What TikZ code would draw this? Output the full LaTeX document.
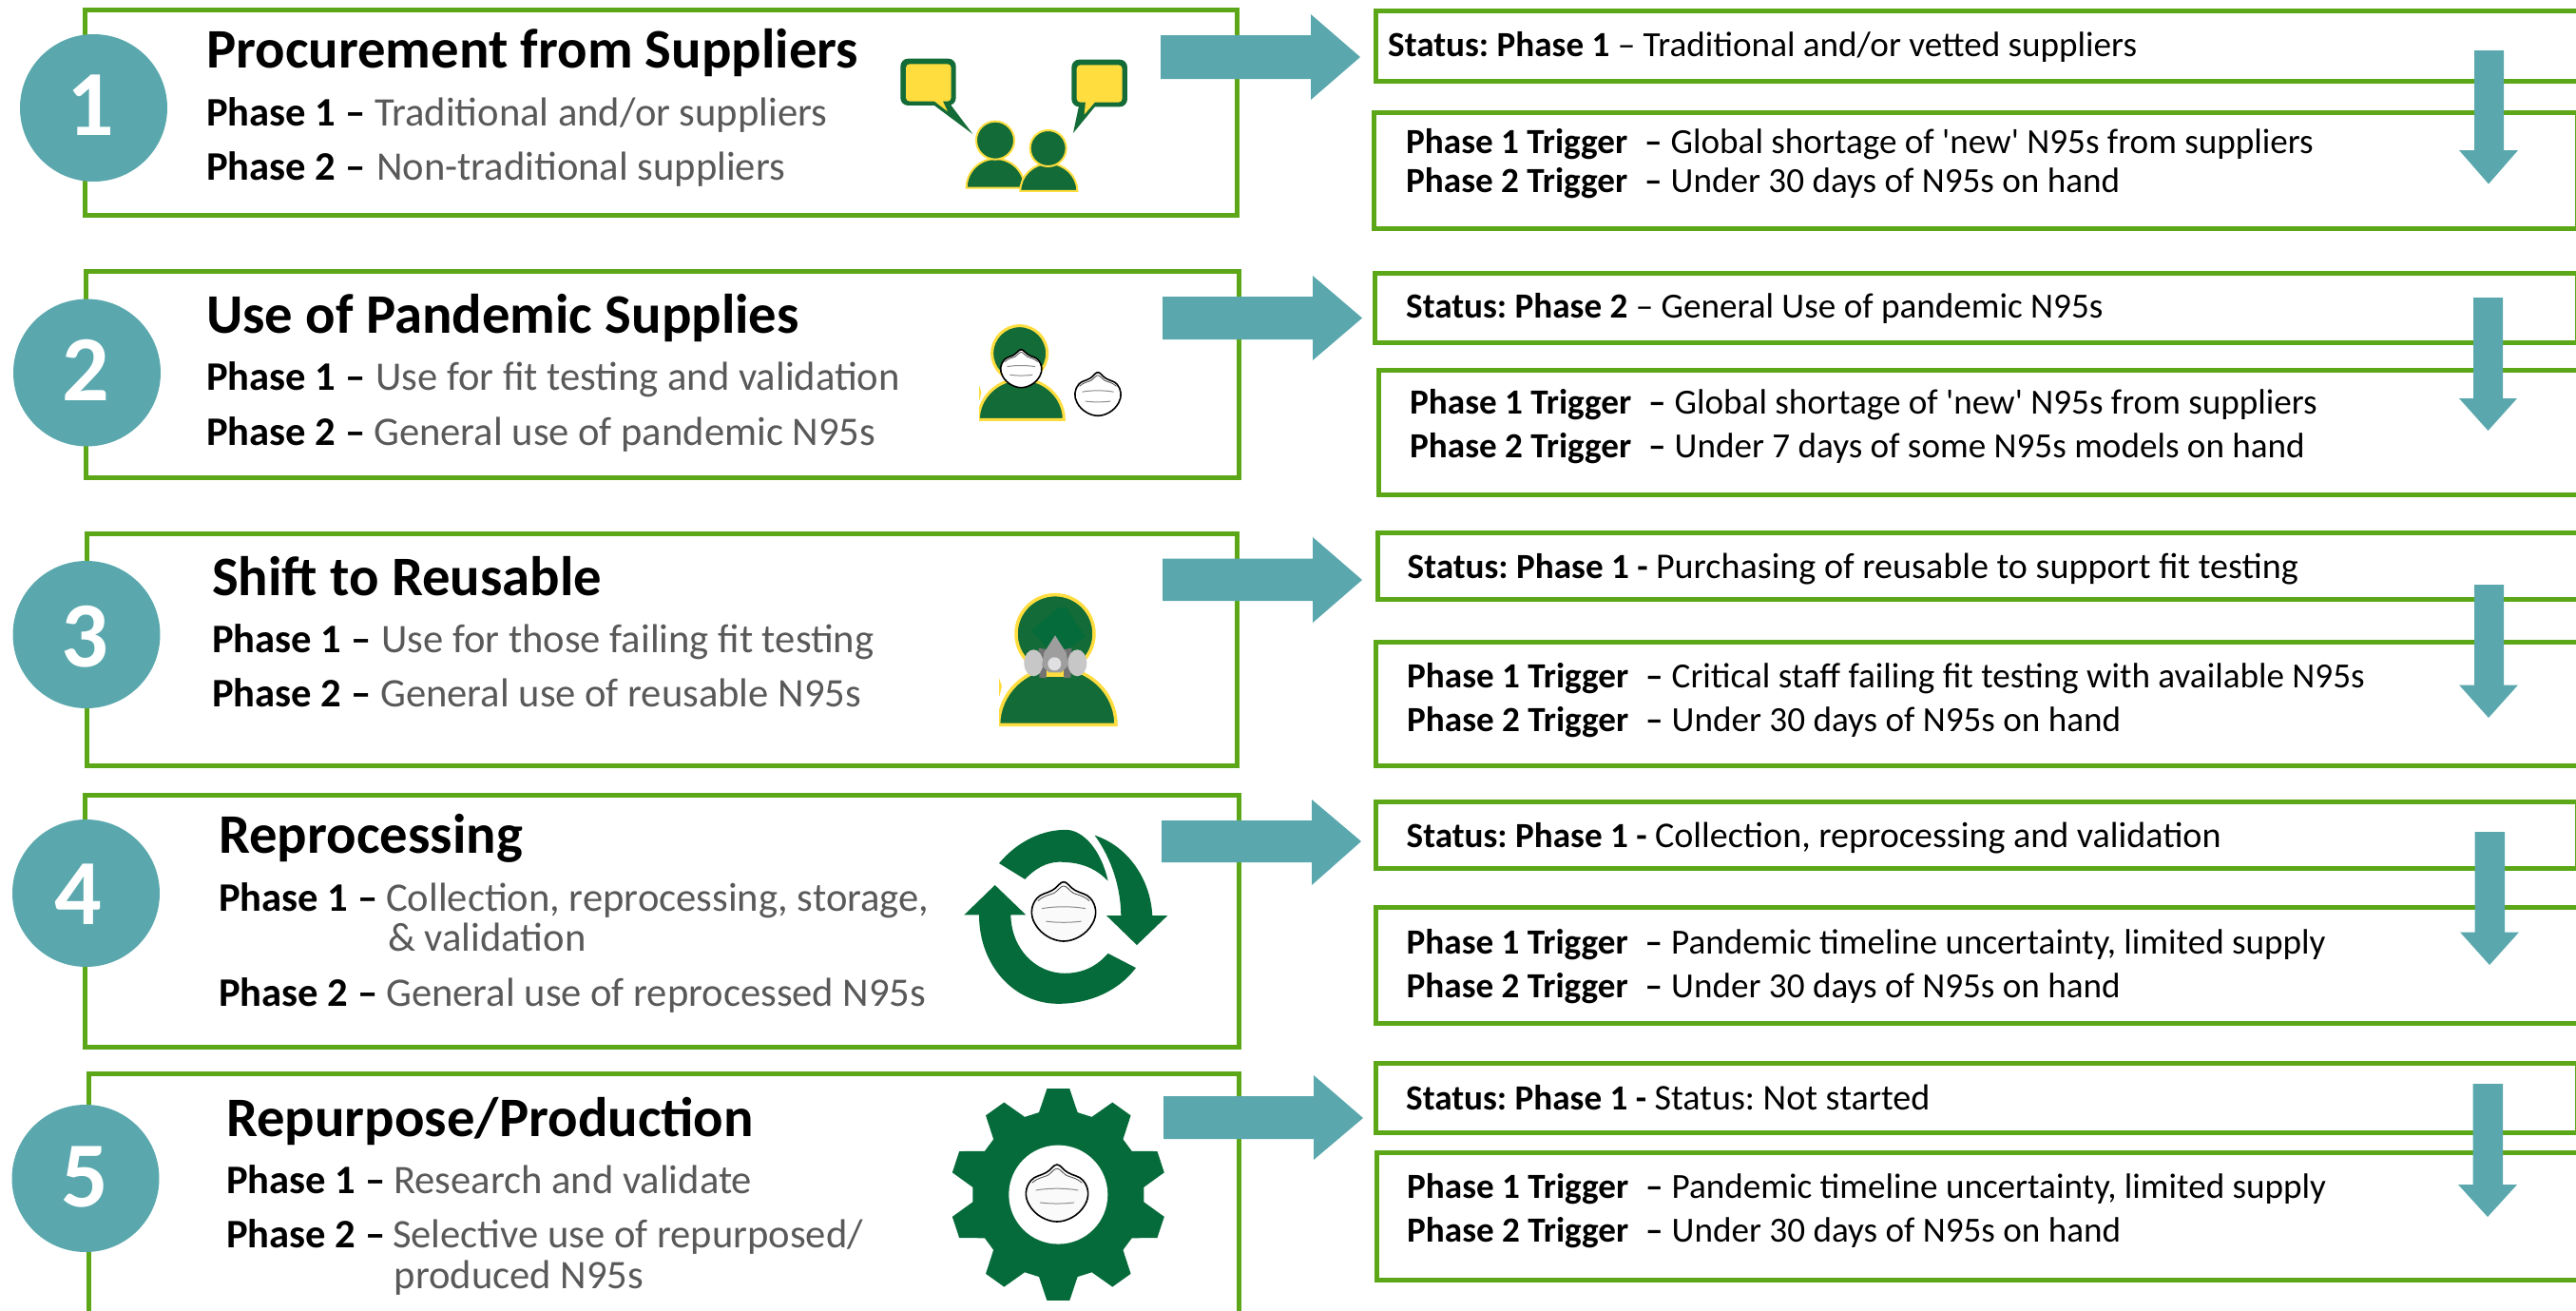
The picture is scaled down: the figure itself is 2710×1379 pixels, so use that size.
\documentclass[tikz,border=0pt]{standalone}
\usepackage{fontspec}
\setmainfont{Carlito}
\newfontfamily\plainf{Carlito}
\newcommand{\sq}{{\plainf '}}
\newcommand{\wider}{\fontsize{38.1}{43}\selectfont}
\definecolor{boxgreen}{RGB}{92,167,24}
\definecolor{tealc}{RGB}{90,168,173}
\definecolor{darkg}{RGB}{19,107,55}
\definecolor{gearg}{RGB}{6,107,58}
\definecolor{yell}{RGB}{255,221,63}
\definecolor{txtgray}{RGB}{89,89,89}
\tikzset{
  gbox/.style={draw=boxgreen,line width=5pt,inner sep=0pt,outer sep=0pt},
  numdisc/.style={circle,fill=tealc,inner sep=0pt,outer sep=0pt,minimum size=155pt},
  numtxt/.style={anchor=base,inner sep=0pt,text=white,font=\fontsize{98}{110}\selectfont\bfseries},
  ttl/.style={anchor=base west,inner sep=0pt,yshift=-2pt,font=\fontsize{58.7}{66}\selectfont\bfseries},
  phs/.style={anchor=base west,inner sep=0pt,yshift=-1.5pt,font=\fontsize{42.6}{48}\selectfont},
  rtxt/.style={anchor=base west,inner sep=0pt,yshift=-1.5pt,font=\fontsize{37.15}{43}\selectfont},
  blockarrow/.style={fill=tealc},
  person/.style={fill=darkg,draw=yell,line width=2pt},
}
\usetikzlibrary{fit,calc}
\newcommand{\gb}[5]{\node[gbox,fit={(#2,#3)(#4,#5)}] (#1) {};}
\newcommand{\phl}[6]{\node[phs,at={(#2,#3)}] (#1) {\makebox[#4pt][l]{\bfseries #5}{\color{txtgray}#6}};}
\newcommand{\trg}[5]{\node[rtxt,at={(#2,#3)}] (#1) {\makebox[251pt][l]{\bfseries #4}\makebox[27.5pt][l]{\bfseries –}#5};}
\newcommand{\rarr}[8]{\fill[blockarrow] (#1,#4) -- (#2,#4) -- (#2,#6) -- (#3,#8) -- (#2,#7) -- (#2,#5) -- (#1,#5) -- cycle;}
\newcommand{\darr}[8]{\fill[blockarrow] (#1,#5) -- (#1,#6) -- (#3,#6) -- (#4,#8) -- (#7,#6) -- (#2,#6) -- (#2,#5) -- cycle;}
\newcommand{\domepath}[4]{({#1-#3},#2) .. controls ({#1-#3},{#2-.55*#4}) and ({#1-.55*#3},{#2-#4}) .. (#1,{#2-#4}) .. controls ({#1+.55*#3},{#2-#4}) and ({#1+#3},{#2-.55*#4}) .. ({#1+#3},#2) -- cycle}
\newcommand{\maskicon}[5]{%
\begin{scope}[shift={(#1,#2)},x=#3pt,y=-#4pt]
\path[fill=#5,draw=black,line width=1.6pt]
 (0,-1) .. controls (-.12,-1) and (-.2,-.8) .. (-.35,-.72)
 .. controls (-.5,-.62) and (-.72,-.6) .. (-.83,-.45)
 .. controls (-1.02,-.22) and (-1.05,.12) .. (-.9,.4)
 .. controls (-.7,.8) and (-.3,1) .. (0,1)
 .. controls (.3,1) and (.7,.8) .. (.9,.4)
 .. controls (1.05,.12) and (1.02,-.22) .. (.83,-.45)
 .. controls (.72,-.6) and (.5,-.62) .. (.35,-.72)
 .. controls (.2,-.8) and (.12,-1) .. (0,-1) -- cycle;
\draw[black!70,line width=.8pt] (-.8,-.36) .. controls (-.6,-.55) and (-.45,-.55) .. (-.3,-.62) .. controls (-.18,-.7) and (-.1,-.86) .. (0,-.86) .. controls (.1,-.86) and (.18,-.7) .. (.3,-.62) .. controls (.45,-.55) and (.6,-.55) .. (.8,-.36);
\draw[black!45,line width=1pt] (-.68,-.1) .. controls (-.3,-.18) and (.3,-.18) .. (.68,-.1);
\draw[black!45,line width=1pt] (-.55,.33) .. controls (-.2,.38) and (.2,.38) .. (.55,.33);
\end{scope}}
\begin{document}
\frenchspacing
\begin{tikzpicture}[x=1pt,y=-1pt]
\useasboundingbox (0,0) rectangle (2710,1379);
\fill[white] (0,0) rectangle (2710,1379);
\clip (0,0) rectangle (2710,1379);
% left boxes
\gb{L1}{89}{10.5}{1301}{226}
\gb{L2}{90}{285.5}{1303}{502}
\gb{L3}{91}{561}{1301}{805}
\gb{L4}{89}{836.5}{1303}{1101}
\gb{L5}{93}{1129}{1303}{1381}
% right boxes
\gb{S1}{1447}{11.5}{2718}{85}
\gb{T1}{1445}{118}{2711}{240}
\gb{S2}{1446}{287}{2711}{360}
\gb{T2}{1450}{389.5}{2718}{520}
\gb{S3}{1449}{560}{2718}{630}
\gb{T3}{1447}{675.5}{2718}{805}
\gb{S4}{1447}{843}{2711}{913}
\gb{T4}{1447}{954.5}{2718}{1076}
\gb{S5}{1447}{1118}{2711}{1191.5}
\gb{T5}{1448}{1212}{2718}{1346}
% number discs
\node[numdisc,at={(98.5,113.5)}] (c1) {};
\node[numdisc,at={(91.5,392)}] (c2) {};
\node[numdisc,at={(91,667.5)}] (c3) {};
\node[numdisc,at={(90.5,939.5)}] (c4) {};
\node[numdisc,at={(90,1239.5)}] (c5) {};
\node[numtxt,at={(95,142)}] (n1) {1};
\node[numtxt,at={(90,421.5)}] (n2) {2};
\node[numtxt,at={(89,701)}] (n3) {3};
\node[numtxt,at={(82,972)}] (n4) {4};
\node[numtxt,at={(89,1269)}] (n5) {5};
% horizontal arrows
\rarr{1221}{1379}{1431}{37}{83}{15}{105}{60}
\rarr{1223}{1381}{1433}{312}{357}{290}{379}{334.5}
\rarr{1223}{1381}{1433}{587.5}{632}{565}{655}{610}
\rarr{1222}{1380}{1432}{863}{907}{841}{931}{885}
\rarr{1224}{1382}{1434}{1153}{1198}{1131}{1220}{1176}
% vertical arrows: bodyL bodyR headL tipx top base headR tip
\darr{2603}{2634}{2587}{2618}{53}{158}{2649}{193.5}
\darr{2602}{2633}{2587}{2617.5}{313}{419}{2648}{453}
\darr{2603}{2634}{2587}{2618}{615}{720.5}{2649}{755}
\darr{2603.5}{2635}{2588}{2619}{875}{980.5}{2650}{1015}
\darr{2601.5}{2633}{2586}{2617}{1140}{1246}{2648}{1280}
% left texts
\node[ttl,at={(217,69)}] (t1) {Procurement from Suppliers};
\phl{p11}{217}{131}{177}{Phase 1 –}{Traditional and/or suppliers}
\phl{p12}{217}{188}{179}{Phase 2 –}{Non-traditional suppliers}
\node[ttl,at={(217,348)}] (t2) {Use of Pandemic Supplies};
\phl{p21}{217}{409}{178}{Phase 1 –}{Use for fit testing and validation}
\phl{p22}{217}{467}{176}{Phase 2 –}{General use of pandemic N95s}
\node[ttl,at={(223,624)}] (t3) {Shift to Reusable};
\phl{p31}{223}{685}{178}{Phase 1 –}{Use for those failing fit testing}
\phl{p32}{223}{742}{177}{Phase 2 –}{General use of reusable N95s}
\node[ttl,at={(230,895.5)}] (t4) {Reprocessing};
\phl{p41}{230}{957}{176}{Phase 1 –}{Collection, reprocessing, storage,}
\node[phs,at={(408,999)},text=txtgray] (p41b) {\& validation};
\phl{p42}{230}{1057}{176}{Phase 2 –}{General use of reprocessed N95s}
\node[ttl,at={(238,1193)}] (t5) {Repurpose/Production};
\phl{p51}{238}{1254}{176}{Phase 1 –}{Research and validate}
\phl{p52}{238}{1311}{175}{Phase 2 –}{Selective use of repurposed/}
\node[phs,at={(414.5,1354)},text=txtgray] (p52b) {produced N95s};
% right texts
\node[rtxt,at={(1460,58)}] (s1) {\textbf{Status: Phase 1} – Traditional and/or vetted suppliers};
\trg{a11}{1479}{160}{Phase 1 Trigger}{Global shortage of \sq new\sq{} N95s from suppliers}
\trg{a12}{1479}{201}{Phase 2 Trigger}{Under 30 days of N95s on hand}
\node[rtxt,at={(1479,333)}] (s2) {\textbf{Status: Phase 2} – General Use of pandemic N95s};
\trg{a21}{1483}{434}{Phase 1 Trigger}{Global shortage of \sq new\sq{} N95s from suppliers}
\trg{a22}{1483}{480}{Phase 2 Trigger}{Under 7 days of some N95s models on hand}
\node[rtxt,at={(1480.5,607)}] (s3) {\textbf{Status: Phase 1 -} {\wider Purchasing of reusable to support fit testing}};
\trg{a31}{1480}{722}{Phase 1 Trigger}{Critical staff failing fit testing with available N95s}
\trg{a32}{1480}{768}{Phase 2 Trigger}{Under 30 days of N95s on hand}
\node[rtxt,at={(1479.5,890)}] (s4) {\textbf{Status: Phase 1 -} {\wider Collection, reprocessing and validation}};
\trg{a41}{1479.5}{1001.5}{Phase 1 Trigger}{Pandemic timeline uncertainty, limited supply}
\trg{a42}{1479.5}{1047.5}{Phase 2 Trigger}{Under 30 days of N95s on hand}
\node[rtxt,at={(1479,1166)}] (s5) {\textbf{Status: Phase 1 -} {\wider Status: Not started}};
\trg{a51}{1480}{1259}{Phase 1 Trigger}{Pandemic timeline uncertainty, limited supply}
\trg{a52}{1480}{1305}{Phase 2 Trigger}{Under 30 days of N95s on hand}
% icon 1
\begin{scope}[shift={(900,30)},x=.3333pt,y=-.3333pt]
\fill[darkg,rounded corners=8pt] (142,95) rectangle (317,243);
\fill[darkg] (245,240) -- (370,333) -- (300,240) -- cycle;
\fill[yell,rounded corners=4pt] (159,112) rectangle (302,230);
\fill[yell] (247,228) -- (291,262) -- (275,228) -- cycle;
\fill[darkg,rounded corners=8pt] (682,98) rectangle (858,247);
\fill[darkg] (706,240) -- (687,330) -- (757,245) -- cycle;
\fill[yell,rounded corners=4pt] (698,115) rectangle (842,233);
\fill[yell] (726,231) -- (722,272) -- (757,231) -- cycle;
\path[person] \domepath{442}{503}{92}{92};
\path[person] (441,353) circle [radius=20pt];
\path[person] \domepath{610}{513}{90}{87};
\path[person] (608,378) circle [radius=19pt];
\end{scope}
% icons 2 and 3
\begin{scope}[shift={(980,320)},x=.3333pt,y=-.3333pt]
\path[person,line width=3pt] (278,155) circle [radius=29pt];
\begin{scope}
\clip (150,200) rectangle (440,372);
\path[person,line width=3pt] \domepath{283}{364}{135}{128};
\end{scope}
\fill[yell] (150,255) -- (157,278) -- (152,302) -- (150,302) -- cycle;
\path[person,line width=3.5pt] (390,1040) circle [radius=41pt];
\fill[gearg] (400,958) -- (315,1030) -- (370,1090) -- (430,1090) -- (485,1050) -- (425,955) -- cycle;
\begin{scope}
\clip (213,1100) rectangle (600,1336);
\path[person,line width=3.5pt] \domepath{397}{1327}{185}{180};
\end{scope}
\fill[yell] (213,1180) -- (222,1205) -- (215,1235) -- (213,1235) -- cycle;
% respirator
\fill[yell] (355,1155) rectangle (425,1175);
\fill[black!55] (338,1085) -- (365,1090) -- (362,1180) -- (340,1178) -- cycle;
\fill[black!55] (442,1085) -- (415,1090) -- (418,1180) -- (440,1178) -- cycle;
\fill[black!22] (322,1132) ellipse [x radius=10pt,y radius=14pt];
\fill[black!22] (460,1132) ellipse [x radius=10pt,y radius=14pt];
\fill[black!38] (390,1045) -- (425,1100) -- (432,1140) -- (410,1162) -- (370,1162) -- (348,1140) -- (355,1100) -- cycle;
\fill[blue!10!black!12] (388,1135) circle [radius=7pt];
\end{scope}
\maskicon{1074.3}{387.7}{21.7}{20}{white}
\maskicon{1155}{414.5}{24.3}{22.8}{white}
% icons 4 and 5
\begin{scope}[shift={(980,850)},x=.3333pt,y=-.3374pt]
\fill[gearg] (213,172) .. controls (270,105) and (350,65) .. (430,68) .. controls (480,72) and (535,130) .. (557,227) .. controls (510,180) and (460,168) .. (400,168) .. controls (360,170) and (325,190) .. (295,222) -- cycle;
\fill[gearg] (515,85) .. controls (610,115) and (690,210) .. (697,335) -- (745,335) -- (648,427) -- (552,335) -- (598,335) .. controls (597,250) and (570,160) .. (515,85) -- cycle;
\fill[gearg] (103,333) -- (200,240) -- (298,333) -- (250,333) .. controls (252,440) and (330,515) .. (420,515) .. controls (475,515) and (520,495) .. (557,453) -- (645,498) .. controls (590,570) and (500,610) .. (400,610) .. controls (260,610) and (150,490) .. (150,333) -- cycle;
\begin{scope}[shift={(400,1205)},xscale=1.03]
\fill[gearg] (77:263) \foreach \a in {90,126,162,198,234,270,306,342,378,414} { -- (\a-13:263) -- (\a-6:332) -- (\a+6:332) -- (\a+13:263) } -- cycle;
\end{scope}
\fill[white] (400,1205) circle [radius=52pt];
\end{scope}
\maskicon{1119}{958.8}{33.8}{31.2}{white!98!black}
\maskicon{1112}{1255}{32.8}{30}{white!98!black}
\end{tikzpicture}
\end{document}
